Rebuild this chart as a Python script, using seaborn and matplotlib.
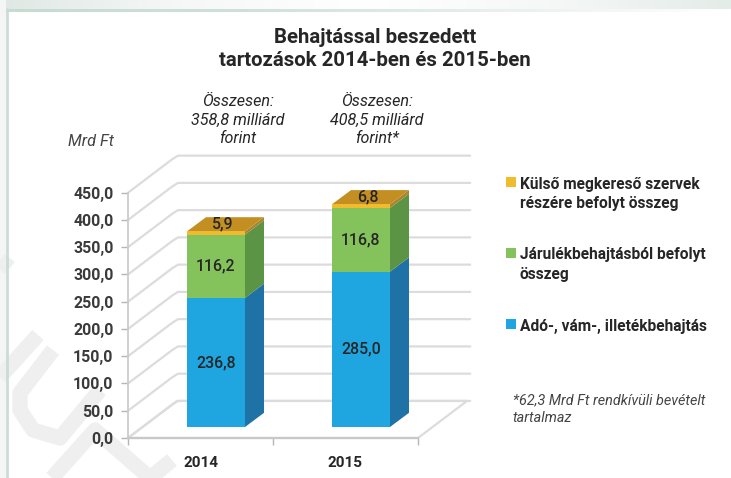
import numpy as np
import matplotlib
matplotlib.use("Agg")
import matplotlib.pyplot as plt
from matplotlib.patches import Polygon, Rectangle
from matplotlib.transforms import ScaledTranslation
from matplotlib.colors import LinearSegmentedColormap
import seaborn as sns

years = ["2014", "2015"]
ado = [236.8, 285.0]
jarulek = [116.2, 116.8]
kulso = [5.9, 6.8]
yticks = [0, 50, 100, 150, 200, 250, 300, 350, 400, 450]
legend_labels = ["Külső megkereső szervek\nrészére befolyt összeg",
                 "Járulékbehajtásból befolyt\nösszeg",
                 "Adó-, vám-, illetékbehajtás"]
totals = ["Összesen:\n358,8 milliárd\nforint", "Összesen:\n408,5 milliárd\nforint*"]

BLUE, BLUE_D = "#1fa6e0", "#1f72a6"
GREEN, GREEN_D = "#84c25c", "#5a9444"
GOLD, GOLD_D, GOLD_TOP = "#f0bb2c", "#a9852e", "#c48f22"
GRID = "#dcdcdc"
DARK = "#262626"

sns.set_theme(style="white")
plt.rcParams["font.family"] = ["Roboto", "DejaVu Sans"]

W, H = 731, 478
fig = plt.figure(figsize=(W / 100, H / 100), dpi=100, facecolor="white")

# background layer in pixel coords (frame, watermark, legend, notes)
bg = fig.add_axes([0, 0, 1, 1], zorder=0)
bg.set_xlim(0, W)
bg.set_ylim(H, 0)
bg.axis("off")
bg.add_patch(Rectangle((0, 0), 6, H, color="#f3f6f5", lw=0))
band = LinearSegmentedColormap.from_list("band", ["#dfe8e4", "#f6f8f7", "#ffffff", "#f6f8f7", "#e4ece8"])
bg.imshow(np.linspace(0, 1, 256).reshape(1, -1), cmap=band, extent=(0, W, 9, 0), aspect="auto")
line_cm = LinearSegmentedColormap.from_list("line", ["#c6dbd4", "#cfe0da", "#e8efec", "#ffffff"])
bg.imshow(np.linspace(0, 1, 256).reshape(1, -1), cmap=line_cm, extent=(6, W, 11.5, 9), aspect="auto")
bg.set_xlim(0, W)
bg.set_ylim(H, 0)
bg.plot([7, 7], [9, H], color="#c9ddd6", lw=2)

for xs, ys in [([0, 38], [377, 335]),
               ([53, 20, 20, 33, 60, 100], [350, 393, 410, 430, 438, 390]),
               ([52, 95, 150, 172], [478, 430, 478, 460]),
               ([0, 10], [260, 268])]:
    bg.plot(xs, ys, color="#efefef", lw=11, solid_capstyle="butt", solid_joinstyle="round", zorder=1)

for i, (label, col, ytop) in enumerate(zip(legend_labels, [GOLD, GREEN, BLUE], [177, 248, 319])):
    bg.add_patch(Rectangle((506, ytop), 10, 10, color=col, lw=0))
    bg.text(520, ytop - 0.5, label, fontsize=11.2, fontweight="bold", color=DARK, va="top", ha="left", linespacing=1.35)
bg.text(513, 393, "*62,3 Mrd Ft rendkívüli bevételt\ntartalmaz", fontsize=10.4, style="italic", color="#444444",
        va="top", ha="left", linespacing=1.35)
bg.text(375, 49, "Behajtással beszedett\ntartozások 2014-ben és 2015-ben", fontsize=14.7, fontweight="bold",
        color=DARK, ha="center", va="center", linespacing=1.27)
for cx, txt in zip([238, 377], totals):
    bg.text(cx, 120, txt, fontsize=11.6, style="italic", color=DARK, ha="center", va="center", linespacing=1.3)
bg.text(91, 141, "Mrd Ft", fontsize=11.7, style="italic", color="#444444", ha="center", va="center")

# chart axes sit on the front plane of the 3D box
ax = fig.add_axes([128 / W, 1 - 438 / H, 290 / W, 245.3 / H], zorder=1)
ax.patch.set_alpha(0)
ax.set_xlim(-0.5, 1.5)
ax.set_ylim(0, 450)

wall_dx, wall_dy = 0.338, 68
side_dx, side_dy = 0.131, 26
offset = ax.transData + ScaledTranslation(15.5 / 100, 11 / 100, fig.dpi_scale_trans)

# floor, then grid running back along the side wall and the back wall
ax.add_patch(Polygon([(-0.5, 0), (1.5, 0), (1.5 + wall_dx, wall_dy), (-0.5 + wall_dx, wall_dy)],
                     closed=True, fc="white", ec=GRID, lw=1.6, clip_on=False, zorder=1))
for v in yticks:
    ax.plot([-0.5, -0.5 + wall_dx * 0.9, -0.5 + wall_dx * 1.02, 1.86],
            [v, v + wall_dy * 0.9, v + wall_dy, v + wall_dy],
            color=GRID, lw=1.6, clip_on=False, zorder=1, solid_joinstyle="round")

bottom1 = np.array(ado)
bottom2 = bottom1 + np.array(jarulek)
for vals, base, col in [(ado, None, BLUE), (jarulek, bottom1, GREEN), (kulso, bottom2, GOLD)]:
    kw = {} if base is None else {"bottom": base}
    sns.barplot(x=years, y=vals, color=col, saturation=1, width=0.4, ax=ax, linewidth=0, **kw)
for p in ax.patches:
    if isinstance(p, Rectangle):
        p.set_transform(offset)
        p.set_clip_on(False)
        p.set_zorder(4)
ax.set_xlim(-0.5, 1.5)
ax.set_ylim(0, 450)

hw = 0.2
for i in range(len(years)):
    stack = [(0, ado[i], BLUE_D), (ado[i], bottom2[i], GREEN_D), (bottom2[i], bottom2[i] + kulso[i], GOLD_D)]
    for lo, hi, col in stack:
        ax.add_patch(Polygon([(i + hw, lo), (i + hw + side_dx, lo + side_dy), (i + hw + side_dx, hi + side_dy), (i + hw, hi)],
                             closed=True, fc=col, ec="none", transform=offset, clip_on=False, zorder=3))
    top = bottom2[i] + kulso[i]
    ax.add_patch(Polygon([(i - hw, top), (i + hw, top), (i + hw + side_dx, top + side_dy), (i - hw + side_dx, top + side_dy)],
                         closed=True, fc=GOLD_TOP, ec="none", transform=offset, clip_on=False, zorder=3))
    lbl = dict(fontsize=11.4, fontweight="medium", color=DARK, ha="center", va="center", zorder=6, transform=offset, clip_on=False)
    ax.text(i, ado[i] / 2, f"{ado[i]:.1f}".replace(".", ","), **lbl)
    ax.text(i, ado[i] + jarulek[i] / 2, f"{jarulek[i]:.1f}".replace(".", ","), **lbl)
    ax.text(i + 0.045, top + side_dy / 2, f"{kulso[i]:.1f}".replace(".", ","), **lbl)

sns.despine(ax=ax, top=True, right=True)
ax.spines["left"].set_color("#c8c8c8")
ax.spines["bottom"].set_color("#c8c8c8")
ax.spines["left"].set_linewidth(1.2)
ax.spines["bottom"].set_linewidth(1.6)
ax.set_yticks(yticks)
ax.set_yticklabels([f"{v:.1f}".replace(".", ",") for v in yticks], fontsize=11.4, fontweight="bold", color="#3a3a3a")
ax.set_xticks([-0.5, 0.5, 1.5], minor=False)
ax.set_xticklabels(["", "", ""])
ax.tick_params(axis="y", length=5, width=1, color="#b5b5b5", pad=5.5, left=True)
ax.tick_params(axis="x", length=5, width=1, color="#b5b5b5", bottom=True)
for i, y in enumerate(years):
    ax.annotate(y, xy=(i, 0), xytext=(0, -18), xycoords=ax.get_xaxis_transform(), textcoords="offset points",
                fontsize=11, fontweight="bold", color=DARK, ha="center", va="center", annotation_clip=False)
ax.set_xlabel("")
ax.set_ylabel("")

fig.savefig("out.png", dpi=100)
